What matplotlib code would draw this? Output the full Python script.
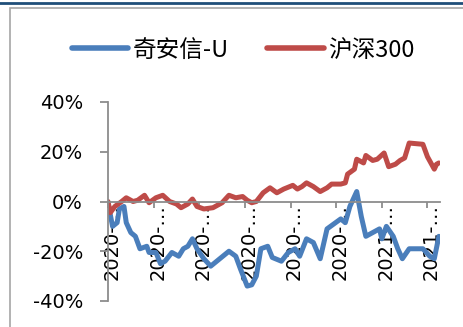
import numpy as np
import matplotlib.pyplot as plt
from matplotlib.lines import Line2D
from matplotlib.patches import Rectangle
from matplotlib.transforms import ScaledTranslation

plt.rcParams['font.family'] = ['DejaVu Sans', 'Noto Sans CJK SC']

# trading-day index and cumulative return (%) for each series
qax_day = [0, 2, 4, 5, 7, 8, 10, 12, 14, 17, 18, 21, 23, 25, 28, 31, 33, 35, 37, 39,
           42, 45, 49, 53, 56, 58, 61, 63, 65, 67, 70, 72, 76, 79, 82, 84, 87, 90, 93, 94,
           96, 99, 102, 104, 106, 109, 111, 113, 116, 119, 120, 122, 125, 127, 129, 132,
           138, 141, 143, 145]
qax_ret = [-0.5, -10, -8.5, -3, -2, -8.5, -12.5, -14, -19, -18, -20.5, -20.5, -25, -24,
           -20.5, -22, -19, -18, -15, -19, -23, -26, -23, -20, -22, -27, -34, -33.5, -30,
           -19, -18, -22.5, -24, -20.5, -19, -22, -15, -16.5, -23, -19, -11, -9, -7, -8.5,
           -2, 4, -6, -14, -12.5, -11, -15, -10, -14, -19, -23, -19, -19, -22, -23, -14]

hs300_day = [0, 1, 3, 6, 8, 11, 13, 16, 18, 21, 24, 27, 30, 32, 35, 37, 39, 42, 46, 50,
             53, 56, 59, 61, 63, 65, 68, 71, 74, 77, 81, 83, 85, 87, 90, 93, 96, 98, 102,
             104, 105, 108, 109, 112, 113, 116, 118, 121, 123, 126, 128, 130, 132, 138,
             140, 143, 144, 145]
hs300_ret = [0, -4.5, -2, 0, 1.5, 0, 0.5, 2.5, -0.5, 1.5, 2.5, 0, -1, -2.5, -1, 1, -2,
             -3, -2.5, -0.5, 2.5, 1.5, 2, 0.5, -0.5, 0, 3.5, 5.5, 3.5, 5, 6.5, 5, 6, 7.5,
             6, 4, 5.5, 7, 7, 7.5, 11, 13, 17, 15.5, 18.5, 16.5, 17, 19.5, 14, 15, 16.5,
             17.5, 23.5, 23, 18, 13, 15, 15.5]

tick_days = [0, 20, 40, 60, 80, 100, 120, 140]
tick_labels = ['2020-…'] * 6 + ['2021-…'] * 2
y_ticks = [-40, -20, 0, 20, 40]
y_labels = ['-40%', '-20%', '0%', '20%', '40%']

W, H = 463, 327
fig = plt.figure(figsize=(W / 100, H / 100), dpi=100)
ax = fig.add_axes([108 / W, 1 - 301 / H, (440 - 108) / W, (301 - 102) / H])

blue = '#4A7EBB'
red = '#BE4B48'
ax.plot(qax_day, qax_ret, color=blue, lw=3.6, solid_joinstyle='round',
        solid_capstyle='round', label='奇安信-U', zorder=2)
ax.plot(hs300_day, hs300_ret, color=red, lw=3.6, solid_joinstyle='round',
        solid_capstyle='round', label='沪深300', zorder=2)

ax.set_xlim(0, 145.5)
ax.set_ylim(-40, 40)
ax.set_facecolor('none')

for s in ['top', 'right']:
    ax.spines[s].set_visible(False)
ax.spines['bottom'].set_position(('data', 0))
for s in ['bottom', 'left']:
    ax.spines[s].set_color('#8C8C8C')
    ax.spines[s].set_linewidth(1.3)

ax.set_yticks(y_ticks)
ax.set_yticklabels(y_labels)
ax.tick_params(axis='y', direction='out', length=6, width=1.3, color='#8C8C8C',
               pad=12, labelsize=14)
ax.set_xticks(tick_days)
ax.set_xticklabels(tick_labels, rotation=90, ha='center', va='top')
ax.tick_params(axis='x', direction='out', length=4, width=1.3, color='#8C8C8C',
               pad=-2, labelsize=14)
offset = ScaledTranslation(4 / 100, 0, fig.dpi_scale_trans)
for lab in ax.get_xticklabels():
    lab.set_transform(lab.get_transform() + offset)

leg = fig.legend(loc='center', bbox_to_anchor=(0.525, 1 - 50 / H), ncol=2,
                 frameon=False, fontsize=17, handlelength=2.4, columnspacing=1.6,
                 handletextpad=0.2,
                 prop={'family': ['Noto Sans CJK SC', 'DejaVu Sans'], 'size': 17})
for h in leg.get_lines():
    h.set_linewidth(4)

# outer chart frame and top rule
fig.patches.append(Rectangle((10 / W, -0.1), 1.2, 1.1 - 8 / H, transform=fig.transFigure,
                             fill=False, edgecolor='#A6A6A6', lw=1.2))
fig.lines.append(Line2D([0, 1], [1 - 3 / H, 1 - 3 / H], transform=fig.transFigure,
                        color='#1F4E79', lw=2))

fig.savefig('out.png', dpi=100)
